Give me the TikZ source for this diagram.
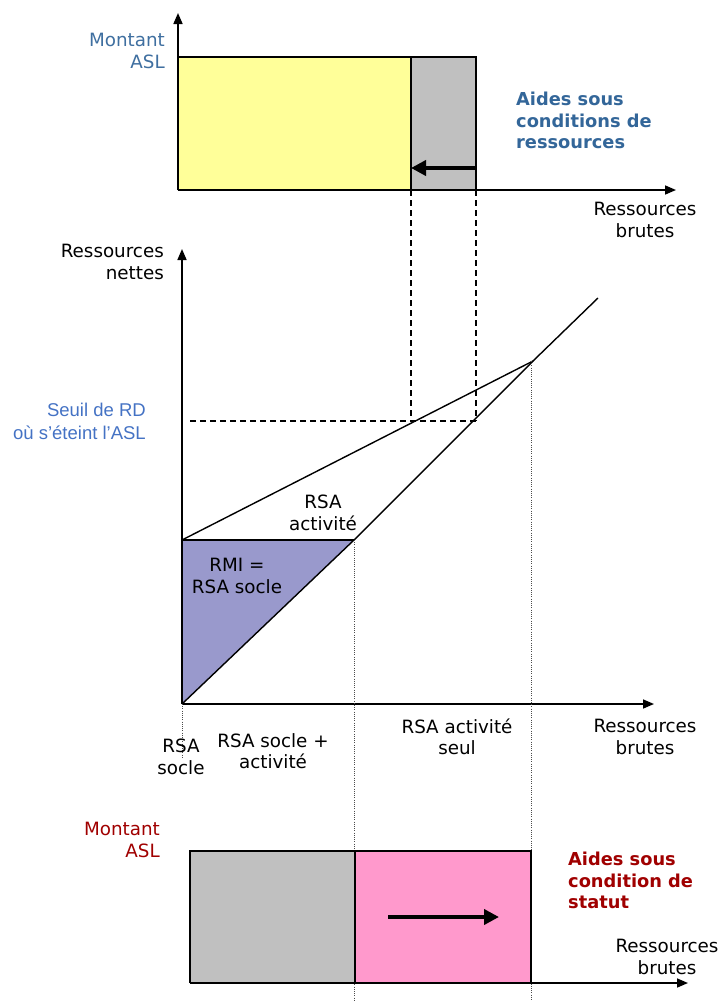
\documentclass[tikz,border=0pt]{standalone}
\usepackage{fontspec}
\setmainfont{DejaVu Sans}
\newfontfamily\arialf{Liberation Sans}
\usetikzlibrary{arrows.meta}
\definecolor{ablue}{HTML}{3F6FA0}
\definecolor{bblue}{HTML}{336699}
\definecolor{sblue}{HTML}{4472C4}
\definecolor{dred}{HTML}{A00000}
\definecolor{cyellow}{HTML}{FFFF99}
\definecolor{cgray}{HTML}{C0C0C0}
\definecolor{cpink}{HTML}{FF99CC}
\definecolor{cpurple}{HTML}{9999CC}
\tikzset{
  axis/.style={line width=1.6pt,-{Triangle[length=11pt,width=9pt]}},
  boxline/.style={draw=black,line width=1.6pt},
  curve/.style={line width=1.4pt},
  dashline/.style={line width=1.6pt,dash pattern=on 6pt off 4pt},
  dotline/.style={line width=1pt,dash pattern=on 1pt off 1.2pt,black!70},
  bigarrow/.style={line width=4pt,-{Triangle[length=15pt,width=15pt]}},
  lbl/.style={inner sep=0pt,align=center,font=\fontsize{18.3}{21.5}\selectfont},
  boldlbl/.style={inner sep=0pt,align=left,anchor=west,font=\fontsize{17.8}{21.5}\selectfont\bfseries},
}
\begin{document}
\begin{tikzpicture}[x=1pt,y=-1pt]
\useasboundingbox (0,0) rectangle (723,1001);

% ---------- top panel ----------
\coordinate (O1) at (178,190);
\coordinate (Y1) at (178,13);
\coordinate (X1) at (676,190);
\coordinate (A1) at (178,57);
\coordinate (B1) at (411,57);
\coordinate (C1) at (476,57);
\coordinate (B1b) at (411,190);
\coordinate (C1b) at (476,190);
\fill[cyellow] (A1) rectangle (B1b);
\fill[cgray] (B1) rectangle (C1b);
\draw[boxline] (O1) -- (A1) -- (C1) -- (C1b);
\draw[boxline] (B1) -- (B1b);
\draw[axis] (O1) -- (Y1);
\draw[axis] (O1) -- (X1);
\coordinate (ar1s) at (476,168);
\coordinate (ar1e) at (411,168);
\draw[bigarrow] (ar1s) -- (ar1e);

\node[lbl,align=right,anchor=east,text=ablue] (mont1) at (165,51) {Montant\\ASL};
\node[boldlbl,text=bblue] (aides1) at (516,120.5) {Aides sous\\conditions de\\ressources};
\node[lbl] (rb1) at (645,220) {Ressources\\brutes};

% ---------- middle panel ----------
\coordinate (O2) at (182,704);
\coordinate (Y2) at (182,249);
\coordinate (X2) at (654,704);
\coordinate (P0) at (182,540);
\coordinate (P1) at (354,540);
\coordinate (P2) at (533,361);
\coordinate (P3) at (598,298);
\coordinate (S1) at (411,421);
\coordinate (S2) at (476,421);
\coordinate (S0) at (190,421);

\fill[cpurple] (O2) -- (P0) -- (P1) -- cycle;
\draw[curve] (P0) -- (P1);
\draw[curve] (O2) -- (P1) -- (P2) -- (P3);
\draw[curve] (P0) -- (P2);
\draw[axis] (O2) -- (Y2);
\draw[axis] (O2) -- (X2);

\draw[dashline] (B1b) -- (S1);
\draw[dashline] (C1b) -- (S2);
\draw[dashline] (S0) -- (S2);

\coordinate (D0) at (182,757);
\coordinate (D1) at (354,1001);
\coordinate (D2) at (531,1001);
\coordinate (P2d) at (531,361);
\draw[dotline] (O2) -- (D0);
\draw[dotline] (P1) -- (D1);
\draw[dotline] (P2d) -- (D2);

\node[lbl,align=right,anchor=east] (rn) at (164,262) {Ressources\\nettes};
\node[lbl,align=right,anchor=east,text=sblue,font=\arialf\fontsize{18.5}{22.5}\selectfont] (seuil) at (146,421.5) {Seuil de RD\\où s’éteint l’ASL};
\node[lbl] (rsaact) at (323,513) {RSA\\activité};
\node[lbl] (rmi) at (237,576) {RMI =\\RSA socle};
\node[lbl] (rsasoc) at (181,757) {RSA\\socle};
\node[lbl] (rsasa) at (273,751) {RSA socle +\\activité};
\node[lbl] (rsaseul) at (457,737) {RSA activité\\seul};
\node[lbl] (rb2) at (645,737) {Ressources\\brutes};

% ---------- bottom panel ----------
\coordinate (O3) at (190,983);
\coordinate (X3) at (688,983);
\coordinate (A3) at (190,851);
\coordinate (B3) at (355,851);
\coordinate (C3) at (531,851);
\coordinate (B3b) at (355,983);
\coordinate (C3b) at (531,983);
\fill[cgray] (A3) rectangle (B3b);
\fill[cpink] (B3) rectangle (C3b);
\draw[boxline] (O3) -- (A3) -- (C3) -- (C3b);
\draw[boxline] (B3) -- (B3b);
\draw[axis] (O3) -- (X3);
\coordinate (ar3s) at (388,917);
\coordinate (ar3e) at (499,917);
\draw[bigarrow] (ar3s) -- (ar3e);

\node[lbl,align=right,anchor=east,text=dred] (mont3) at (160,840) {Montant\\ASL};
\node[boldlbl,text=dred] (aides3) at (568,880.5) {Aides sous\\condition de\\statut};
\node[lbl] (rb3) at (667,957) {Ressources\\brutes};
\end{tikzpicture}
\end{document}
